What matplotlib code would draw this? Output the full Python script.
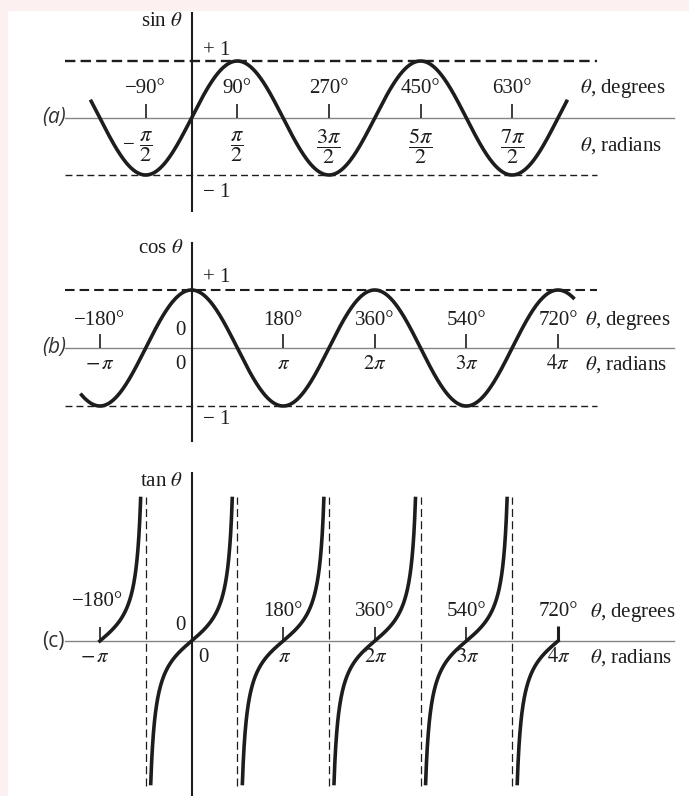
import numpy as np
import matplotlib.pyplot as plt
from matplotlib.patches import Rectangle

plt.rcParams['font.family'] = ['Liberation Serif', 'DejaVu Serif']
plt.rcParams['mathtext.fontset'] = 'stix'

INK = '#1e1c1d'
AXIS_GREY = '#858585'
PINK = '#fdf0f0'

# tick positions (degrees) and their labels
SIN_TICKS = [-90, 90, 270, 450, 630]
SIN_DEG_LABELS = ['\u221290\u00b0', '90\u00b0', '270\u00b0', '450\u00b0', '630\u00b0']
SIN_RAD_LABELS = [r'$\dfrac{\pi}{2}$', r'$\dfrac{\pi}{2}$', r'$\dfrac{3\pi}{2}$',
                  r'$\dfrac{5\pi}{2}$', r'$\dfrac{7\pi}{2}$']
SIN_RANGE = (-197, 737)

COS_TICKS = [-180, 180, 360, 540, 720]
COS_DEG_LABELS = ['\u2212180\u00b0', '180\u00b0', '360\u00b0', '540\u00b0', '720\u00b0']
COS_RAD_LABELS = [r'$-\,\pi$', r'$\pi$', r'$2\pi$', r'$3\pi$', r'$4\pi$']
COS_RANGE = (-216, 750)

TAN_TICKS = [-180, 180, 360, 540, 720]
TAN_DEG_LABELS = ['\u2212180\u00b0', '180\u00b0', '360\u00b0', '540\u00b0', '720\u00b0']
TAN_RAD_LABELS = [r'$-\,\pi$', r'$\pi$', r'$2\pi$', r'$3\pi$', r'$4\pi$']
TAN_CENTERS = [-180, 0, 180, 360, 540, 720]
TAN_ASYMPTOTES = [-90, 90, 270, 450, 630]
TAN_LIMIT = 5.7
TAN_RANGE = (-180, 720)

W, H = 689, 796
X_ZERO = 191.5
PX_PER_DEG = 0.509
LINE_SPAN = (-248, 797)
AXIS_SPAN = (-248, 948)
FS = 15


def deg(px):
    return (px - X_ZERO) / PX_PER_DEG


fig = plt.figure(figsize=(W / 100, H / 100), dpi=100)
fig.patches.append(Rectangle((0, 1 - 10 / H), 1, 10 / H, transform=fig.transFigure,
                             color=PINK, zorder=0))
fig.patches.append(Rectangle((0, 0), 7 / W, 1, transform=fig.transFigure,
                             color=PINK, zorder=0))


def panel(top, bottom, zero, unit):
    ax = fig.add_axes([0, 1 - bottom / H, 1, (bottom - top) / H])
    ax.set_xlim(deg(0), deg(W))
    ax.set_ylim(-(bottom - zero) / unit, (zero - top) / unit)
    ax.axis('off')
    ax.patch.set_alpha(0)
    return ax


def frame(ax, ytop, ybot):
    ax.plot(AXIS_SPAN, [0, 0], color=AXIS_GREY, lw=1.0, zorder=1)
    ax.plot([0, 0], [ybot, ytop], color=INK, lw=1.5, zorder=2)


def txt(ax, x, y, s, ha='center', **kw):
    ax.text(x, y, s, ha=ha, va='center', fontsize=kw.pop('fs', FS), color=INK, **kw)


def tag(ax, s, italic=True):
    ax.text(deg(42), 0, s, ha='left', va='center', fontsize=15, color='#333333',
            family='Open Sans', style='italic' if italic else 'normal')


# (a) sine
ax = panel(10, 228, 118, 57)
frame(ax, 1.84, -1.63)
ax.plot(LINE_SPAN, [1, 1], color=INK, lw=1.7, ls=(0, (4.4, 2.2)))
ax.plot(LINE_SPAN, [-1, -1], color=INK, lw=1.0, ls=(0, (5, 2.9)))
th = np.linspace(*SIN_RANGE, 800)
ax.plot(th, np.sin(np.radians(th)), color=INK, lw=2.6, zorder=3)
ax.vlines(SIN_TICKS, 0, 0.245, color=INK, lw=1.2)
for t, dl, rl in zip(SIN_TICKS, SIN_DEG_LABELS, SIN_RAD_LABELS):
    txt(ax, t, 0.51, dl)
    txt(ax, t, -0.5, rl, fs=16)
txt(ax, -124, -0.48, '\u2212')
txt(ax, deg(580), 0.51, r'$\theta$, degrees', ha='left')
txt(ax, deg(580), -0.49, r'$\theta$, radians', ha='left')
txt(ax, deg(183), 1.70, r'sin $\theta$', ha='right')
txt(ax, deg(203), 1.19, '+ 1', ha='left')
txt(ax, deg(203), -1.30, '\u2212 1', ha='left')
tag(ax, '(a)')

# (b) cosine
ax = panel(228, 458, 348, 58)
frame(ax, 1.81, -1.60)
ax.plot(LINE_SPAN, [1, 1], color=INK, lw=1.5, ls=(0, (4.6, 2.4)))
ax.plot(LINE_SPAN, [-1, -1], color=INK, lw=1.0, ls=(0, (5, 2.9)))
th = np.linspace(*COS_RANGE, 800)
ax.plot(th, np.cos(np.radians(th)), color=INK, lw=2.6, zorder=3)
ax.vlines(COS_TICKS, 0, 0.24, color=INK, lw=1.2)
for t, dl, rl in zip(COS_TICKS, COS_DEG_LABELS, COS_RAD_LABELS):
    txt(ax, t, 0.48, dl)
    txt(ax, t, -0.28, rl)
txt(ax, deg(180), 0.31, '0')
txt(ax, deg(180), -0.28, '0')
txt(ax, deg(585), 0.48, r'$\theta$, degrees', ha='left')
txt(ax, deg(585), -0.28, r'$\theta$, radians', ha='left')
txt(ax, deg(183), 1.72, r'cos $\theta$', ha='right')
txt(ax, deg(203), 1.22, '+ 1', ha='left')
txt(ax, deg(203), -1.24, '\u2212 1', ha='left')
tag(ax, '(b)')

# (c) tangent
ax = panel(458, 796, 641, 25)
frame(ax, 6.72, -6.3)
lim = np.degrees(np.arctan(TAN_LIMIT))
for c in TAN_CENTERS:
    lo, hi = max(c - lim, TAN_RANGE[0]), min(c + lim, TAN_RANGE[1])
    th = np.linspace(lo, hi, 400)
    ax.plot(th, np.tan(np.radians(th)), color=INK, lw=2.6, zorder=3)
ax.vlines(TAN_ASYMPTOTES, -5.78, 5.78, color=INK, lw=0.9, linestyles=(0, (6.4, 3.4)))
ax.vlines(TAN_TICKS[:-1], 0, 0.56, color=INK, lw=1.2)
ax.vlines(TAN_TICKS[-1:], 0, 0.6, color=INK, lw=2.2)
for t, dl, rl in zip(TAN_TICKS, TAN_DEG_LABELS, TAN_RAD_LABELS):
    y = 1.56 if t < 0 else 1.16
    x = t - 5 if t < 0 else t
    txt(ax, x, y, dl)
    txt(ax, t - 10 if t < 0 else t + 2, -0.68, rl)
txt(ax, deg(180), 0.64, '0')
txt(ax, deg(203), -0.68, '0')
txt(ax, deg(590), 1.16, r'$\theta$, degrees', ha='left')
txt(ax, deg(590), -0.68, r'$\theta$, radians', ha='left')
txt(ax, deg(183), 6.4, r'tan $\theta$', ha='right')
tag(ax, '(c)', italic=False)

fig.savefig('out.png', dpi=100)
